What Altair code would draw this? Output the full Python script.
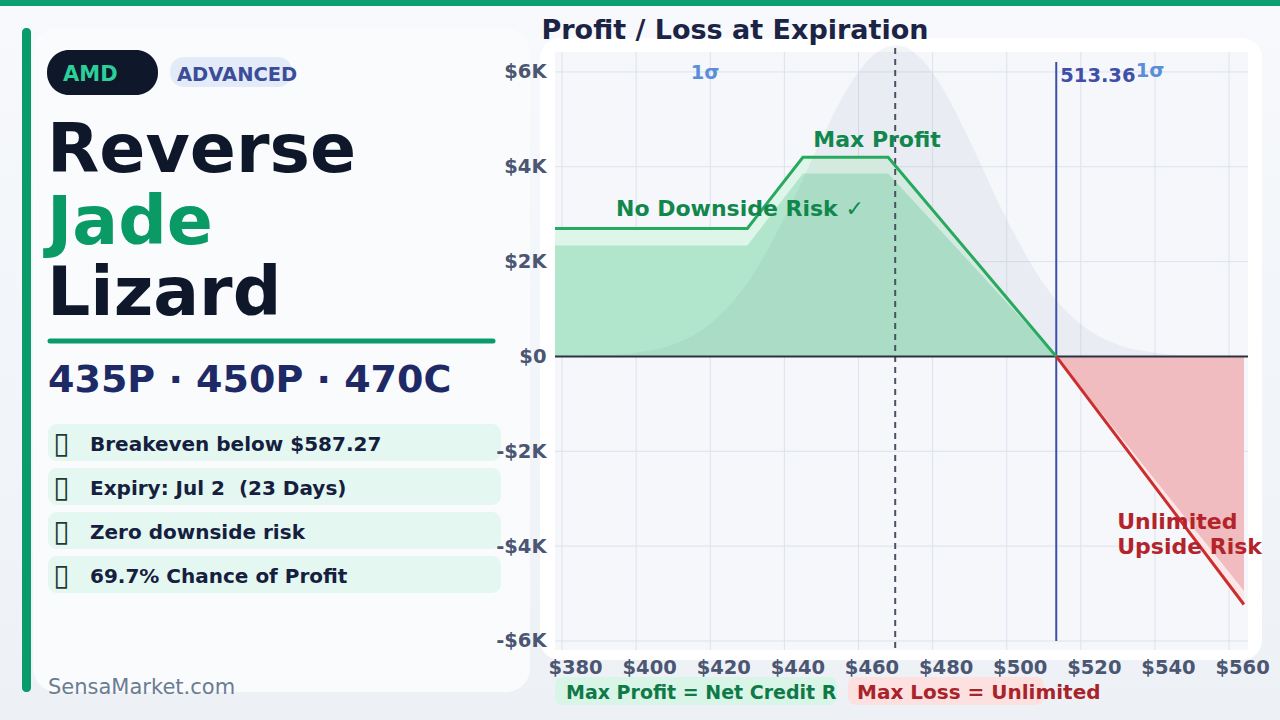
import altair as alt
import pandas as pd

# ---------------- data ----------------
payoff_price = [378.1, 430.0, 445.0, 468.0, 513.36]
payoff_pnl = [2700, 2700, 4200, 4200, 0]
payoff_fill = [2340, 2340, 3860, 3860, 0]
loss_price = [513.36, 564.0]
loss_pnl = [0, -5230]
loss_fill = [0, -4940]
bell_price = [378, 390, 400, 410, 420, 430, 440, 450, 455, 460, 465, 470,
              475, 480, 485, 490, 500, 510, 520, 530, 540, 550, 565]
bell_value = [0, 20, 80, 250, 690, 1550, 2920, 4580, 5370, 6000, 6420, 6560,
              6410, 5980, 5340, 4550, 2890, 1530, 680, 250, 80, 20, 0]
x_ticks = [380, 400, 420, 440, 460, 480, 500, 520, 540, 560]
y_ticks = [-6000, -4000, -2000, 0, 2000, 4000, 6000]
spot_price = [469.9]
breakeven_price = [513.36]
breakeven_label = ["513.36"]
sigma_price = [418.6, 538.7]
sigma_y = [5970, 6020]
sigma_label = ["1σ", "1σ"]
ann_green_x = [465.0, 428.0]
ann_green_y = [4557, 3101]
ann_green_text = ["Max Profit", "No Downside Risk ✓"]
ann_red_x = [529.8, 529.8]
ann_red_y = [-3481, -4008]
ann_red_text = ["Unlimited", "Upside Risk"]

ticker = "AMD"
level = "ADVANCED"
title_words = ["Reverse", "Jade", "Lizard"]
legs = "435P · 450P · 470C"
info_rows = ["Breakeven below $587.27", "Expiry: Jul 2\u00a0 (23 Days)",
             "Zero downside risk", "69.7% Chance of Profit"]
chart_title = "Profit / Loss at Expiration"
footer = "SensaMarket.com"
legend_profit = "Max Profit = Net Credit R"
legend_loss = "Max Loss = Unlimited"

# ---------------- layout ----------------
FONT = "DejaVu Sans"
PL, PT, PR, PB = 555, 52, 32, 70
W, H = 1280 - PL - PR, 720 - PT - PB


def px(x):
    return x - PL


def py(y):
    return y - PT


one = pd.DataFrame({"k": [0]})

xs = alt.Scale(domain=[378.1, 565.1], nice=False, zero=False)
ys = alt.Scale(domain=[-6190, 6420], nice=False, zero=False)
x_axis = alt.Axis(values=x_ticks, labelExpr="'$' + datum.value", title=None,
                  grid=False, domain=False, ticks=False, labelFont=FONT,
                  labelFontWeight="bold", labelFontSize=19.5, labelColor="#4b5672",
                  labelPadding=8, labelOffset=13, zindex=1, labelFlush=False)
y_axis = alt.Axis(values=y_ticks,
                  labelExpr="datum.value == 0 ? '$0' : (datum.value < 0 ? '-$' : '$') + format(abs(datum.value)/1000, 'd') + 'K'",
                  title=None, grid=False, domain=False, ticks=False, labelFont=FONT,
                  labelFontWeight="bold", labelFontSize=19.5, labelColor="#4b5672",
                  labelPadding=9, zindex=1)


def X(f):
    return alt.X(f"{f}:Q", scale=xs, axis=x_axis)


def Y(f):
    return alt.Y(f"{f}:Q", scale=ys, axis=y_axis)


def rect(x0, y0, x1, y1, color, r=0, **kw):
    return alt.Chart(one).mark_rect(color=color, cornerRadius=r, **kw).encode(
        x=alt.value(px(x0)), x2=alt.value(px(x1)),
        y=alt.value(py(y0)), y2=alt.value(py(y1)))


def text(s, x, y, size, color, weight="bold", align="left", baseline="middle"):
    return alt.Chart(one).mark_text(text=s, fontSize=size, color=color, fontWeight=weight,
                                    align=align, baseline=baseline, font=FONT).encode(
        x=alt.value(px(x)), y=alt.value(py(y)))


layers = []
# page background + cards
bg = alt.Gradient(gradient="linear",
                  stops=[alt.GradientStop(color="#f7f9fc", offset=0),
                         alt.GradientStop(color="#edf1f6", offset=1)],
                  x1=0, x2=0, y1=0, y2=1)
layers.append(alt.Chart(one).mark_rect(fill=bg).encode(
    x=alt.value(px(0)), x2=alt.value(px(1280)), y=alt.value(py(0)), y2=alt.value(py(720))))
layers.append(rect(0, 0, 1280, 6, "#0c9f6f"))
layers.append(rect(33, 28, 530, 692, "#f9fbfd", 24))
layers.append(rect(22, 28, 31, 692, "#0a9b6b", 4))
layers.append(rect(540, 38, 1262, 660, "#ffffff", 20))
layers.append(rect(PL, PT, PL + W, PT + H, "#f5f7fb"))

# gridlines
gx = pd.DataFrame({"tick": x_ticks})
gy = pd.DataFrame({"tick": y_ticks})
layers.append(alt.Chart(gx).mark_rule(color="#dde2ec", strokeWidth=1).encode(
    x=X("tick"), y=alt.value(0), y2=alt.value(H)))
layers.append(alt.Chart(gy).mark_rule(color="#dde2ec", strokeWidth=1).encode(
    y=Y("tick"), x=alt.value(0), x2=alt.value(W)))

# fills
gdf = pd.DataFrame({"price": payoff_price, "pnl": payoff_pnl, "fill": payoff_fill,
                    "zero": [0] * len(payoff_price)})
rdf = pd.DataFrame({"price": loss_price, "pnl": loss_pnl, "fill": loss_fill,
                    "zero": [0] * len(loss_price)})
layers.append(alt.Chart(gdf).mark_area(color="#def5e9").encode(x=X("price"), y=Y("pnl"), y2="zero:Q"))
layers.append(alt.Chart(gdf).mark_area(color="#b1e6cc").encode(x=X("price"), y=Y("fill"), y2="zero:Q"))
layers.append(alt.Chart(rdf).mark_area(color="#fde6e8").encode(x=X("price"), y=Y("pnl"), y2="zero:Q"))
layers.append(alt.Chart(rdf).mark_area(color="#f0bcc0").encode(x=X("price"), y=Y("fill"), y2="zero:Q"))

# probability bell
bdf = pd.DataFrame({"price": bell_price, "dens": bell_value, "zero": [0] * len(bell_price)})
layers.append(alt.Chart(bdf).mark_area(color="#5a6b85", opacity=0.075, interpolate="monotone",
                                       clip=False).encode(x=X("price"), y=Y("dens"), y2="zero:Q"))

# reference lines
layers.append(alt.Chart(pd.DataFrame({"p": spot_price})).mark_rule(
    color="#4a5262", strokeWidth=2, strokeDash=[6, 5]).encode(
    x=X("p"), y=alt.value(py(48)), y2=alt.value(H)))
layers.append(alt.Chart(pd.DataFrame({"p": breakeven_price})).mark_rule(
    color="#3f4fa8", strokeWidth=2).encode(x=X("p"), y=alt.value(py(62)), y2=alt.value(py(641))))
layers.append(alt.Chart(pd.DataFrame({"z": [0]})).mark_rule(color="#2b3240", strokeWidth=2).encode(
    y=Y("z"), x=alt.value(0), x2=alt.value(W)))

# payoff lines
layers.append(alt.Chart(gdf).mark_line(color="#27aa5e", strokeWidth=3).encode(x=X("price"), y=Y("pnl")))
layers.append(alt.Chart(rdf).mark_line(color="#cc2e2e", strokeWidth=3).encode(x=X("price"), y=Y("pnl")))

# chart annotations
adf = pd.DataFrame({"x": ann_green_x, "y": ann_green_y, "t": ann_green_text})
layers.append(alt.Chart(adf).mark_text(font=FONT, fontWeight="bold", fontSize=22, color="#11874d",
                                       align="center", baseline="middle").encode(
    x=X("x"), y=Y("y"), text="t:N"))
rtdf = pd.DataFrame({"x": ann_red_x, "y": ann_red_y, "t": ann_red_text})
layers.append(alt.Chart(rtdf).mark_text(font=FONT, fontWeight="bold", fontSize=22, color="#b3242a",
                                        align="left", baseline="middle").encode(
    x=X("x"), y=Y("y"), text="t:N"))
bedf = pd.DataFrame({"x": breakeven_price, "y": [5907], "t": breakeven_label})
layers.append(alt.Chart(bedf).mark_text(font=FONT, fontWeight="bold", fontSize=19.5, color="#3f4fa8",
                                        align="left", baseline="middle", dx=4).encode(
    x=X("x"), y=Y("y"), text="t:N"))
sdf = pd.DataFrame({"x": sigma_price, "y": sigma_y, "t": sigma_label})
layers.append(alt.Chart(sdf).mark_text(font=FONT, fontWeight="bold", fontSize=19.5, color="#5b8ed8",
                                       align="center", baseline="middle").encode(
    x=X("x"), y=Y("y"), text="t:N"))

# chart title
layers.append(text(chart_title, 735, 31, 27, "#1b2444", align="center"))

# left panel
layers.append(rect(47, 50, 158, 95, "#0f172a", 22))
layers.append(text(ticker, 63, 75, 21, "#2ccf98"))
layers.append(rect(170, 57, 292, 87, "#e3ebf9", 14))
layers.append(text(level, 177, 75, 19.5, "#3b4d99"))
title_colors = ["#0f172a", "#0a9a66", "#0f172a"]
title_base = [172, 243.5, 315]
for w, c, b in zip(title_words, title_colors, title_base):
    layers.append(text(w, 47, b, 68, c, baseline="alphabetic"))
layers.append(alt.Chart(one).mark_rule(color="#0a9b6b", strokeWidth=5, strokeCap="round").encode(
    x=alt.value(px(50)), x2=alt.value(px(493)), y=alt.value(py(341)), y2=alt.value(py(341))))
layers.append(text(legs, 48, 392, 38, "#1e2a66", baseline="alphabetic"))
for i, row in enumerate(info_rows):
    top = 424 + i * 44
    layers.append(rect(48, top, 501, top + 37, "#e4f7f0", 9))
    layers.append(text("▯", 53, top + 20, 30, "#1f3d33", weight="normal"))
    layers.append(text(row, 90, top + 21, 20, "#15203f"))
layers.append(text(footer, 48, 688, 21, "#6b7d93", weight="normal"))

# bottom legend badges
layers.append(rect(555, 677, 837, 705, "#d9f5e8", 8))
layers.append(text(legend_profit, 566, 693, 19, "#0f7a47"))
layers.append(rect(848, 677, 1044, 705, "#fde0e0", 8))
layers.append(text(legend_loss, 857, 693, 20, "#a8232a"))

chart = alt.layer(*layers).properties(
    width=W, height=H,
    padding={"left": PL, "top": PT, "right": PR, "bottom": PB},
    autosize=alt.AutoSizeParams(type="none"),
).configure(background="#eef2f7", font=FONT).configure_view(stroke=None)

chart.save("out.html", embed_options={"renderer": "svg", "actions": False})
